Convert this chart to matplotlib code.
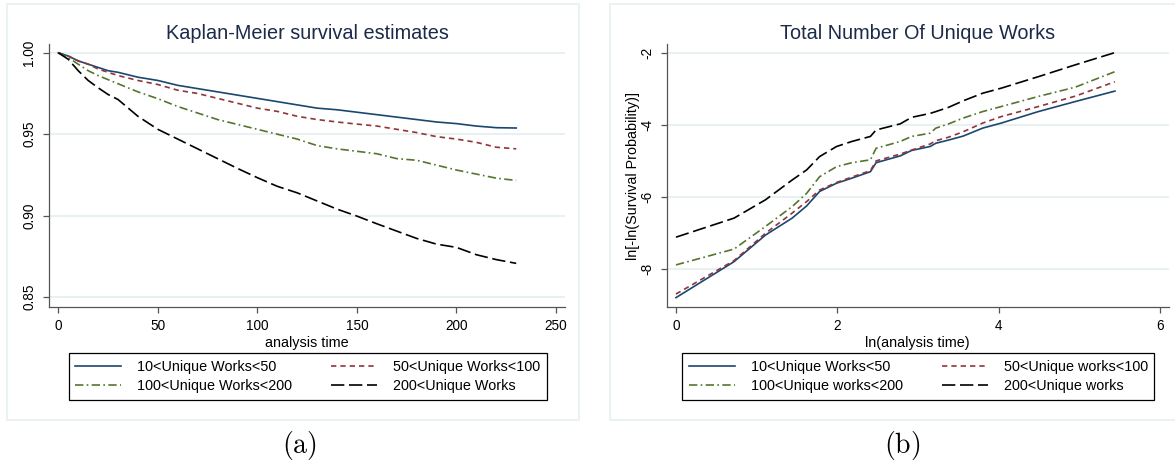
import numpy as np
import matplotlib
matplotlib.use("Agg")
import matplotlib.pyplot as plt
from matplotlib.patches import Rectangle

plt.rcParams['font.family'] = ['Liberation Sans', 'DejaVu Sans']
plt.rcParams['axes.unicode_minus'] = False

# ---- data ----
t = [0, 5, 10, 15, 20, 25, 30, 40, 50, 60, 70, 80, 90, 100, 110, 120,
     130, 140, 150, 160, 170, 180, 190, 200, 210, 220, 230]
km_10_50 = [1.000, 0.998, 0.995, 0.993, 0.991, 0.989, 0.988, 0.985, 0.983,
            0.980, 0.978, 0.976, 0.974, 0.972, 0.970, 0.968, 0.966, 0.965,
            0.9635, 0.962, 0.9605, 0.959, 0.9575, 0.9565, 0.955, 0.954, 0.9538]
km_50_100 = [1.000, 0.998, 0.995, 0.993, 0.990, 0.988, 0.986, 0.983, 0.9805,
             0.977, 0.975, 0.972, 0.969, 0.966, 0.964, 0.961, 0.959, 0.9575,
             0.9562, 0.955, 0.953, 0.951, 0.9485, 0.947, 0.945, 0.942, 0.941]
km_100_200 = [1.000, 0.997, 0.993, 0.989, 0.986, 0.9835, 0.981, 0.976, 0.9718,
              0.967, 0.963, 0.959, 0.956, 0.953, 0.950, 0.947, 0.943, 0.941,
              0.9395, 0.938, 0.935, 0.934, 0.931, 0.928, 0.9255, 0.923, 0.9216]
km_200 = [1.000, 0.996, 0.989, 0.983, 0.9785, 0.9744, 0.9713, 0.961, 0.953,
          0.947, 0.941, 0.935, 0.929, 0.9233, 0.918, 0.914, 0.909, 0.904,
          0.8997, 0.895, 0.8905, 0.886, 0.8825, 0.8805, 0.876, 0.873, 0.8707]

lnt = [0, 0.72, 1.11, 1.44, 1.62, 1.78, 1.99, 2.18, 2.41, 2.48, 2.78, 2.92,
       3.15, 3.22, 3.38, 3.56, 3.80, 4.03, 4.49, 4.95, 5.44]
ll_10_50 = [-8.79, -7.79, -7.05, -6.58, -6.24, -5.84, -5.61, -5.47, -5.29, -5.04,
            -4.85, -4.70, -4.59, -4.50, -4.41, -4.30, -4.08, -3.94, -3.62, -3.34, -3.05]
ll_50_100 = [-8.69, -7.76, -7.00, -6.44, -6.12, -5.80, -5.59, -5.44, -5.26, -4.99,
             -4.80, -4.69, -4.52, -4.43, -4.33, -4.18, -3.94, -3.76, -3.48, -3.19, -2.79]
ll_100_200 = [-7.88, -7.44, -6.81, -6.26, -5.89, -5.43, -5.15, -5.04, -4.96, -4.64,
              -4.45, -4.31, -4.22, -4.08, -3.96, -3.80, -3.62, -3.48, -3.20, -2.94, -2.51]
ll_200 = [-7.11, -6.58, -6.07, -5.52, -5.24, -4.87, -4.59, -4.45, -4.31, -4.13,
          -3.96, -3.78, -3.67, -3.62, -3.50, -3.32, -3.11, -2.97, -2.65, -2.32, -1.98]

labels_a = ['10<Unique Works<50', '50<Unique Works<100',
            '100<Unique Works<200', '200<Unique Works']
labels_b = ['10<Unique Works<50', '50<Unique works<100',
            '100<Unique works<200', '200<Unique works']

navy = '#1a476f'
maroon = '#90353b'
green = '#55752f'
grid_c = '#e8f0f2'
title_c = '#1c2a4a'

styles = [dict(color=navy, ls='-'),
          dict(color=maroon, dashes=(3.2, 2.4)),
          dict(color=green, dashes=(5, 2, 1, 2)),
          dict(color='black', dashes=(8, 2.8))]

W, H = 1175, 463
fig = plt.figure(figsize=(W / 100, H / 100), dpi=100)


def px_axes(x0, y0, x1, y1):
    return fig.add_axes([x0 / W, 1 - y1 / H, (x1 - x0) / W, (y1 - y0) / H])


# panel frames
fig.add_artist(Rectangle((7 / W, 1 - 420 / H), 572 / W, 416 / H,
                         transform=fig.transFigure, fill=False,
                         ec=grid_c, lw=1.2))
fig.add_artist(Rectangle((610 / W, 1 - 420 / H), 600 / W, 416 / H,
                         transform=fig.transFigure, fill=False,
                         ec=grid_c, lw=1.2))


def style_axes(ax):
    for s in ['top', 'right']:
        ax.spines[s].set_visible(False)
    for s in ['left', 'bottom']:
        ax.spines[s].set_color('#555555')
        ax.spines[s].set_linewidth(0.9)
    ax.tick_params(direction='out', length=4, width=0.9, color='#555555',
                   labelsize=9.8, pad=5)
    ax.yaxis.grid(True, color=grid_c, lw=1.4)
    ax.set_axisbelow(True)
    for lab in ax.get_yticklabels():
        lab.set_rotation(90)
        lab.set_va('center')


def add_legend(ax, handles, labels, x0, y0, y1):
    # row-major order like the reference
    order = [0, 2, 1, 3]
    leg = ax.legend([handles[i] for i in order], [labels[i] for i in order],
                    ncol=2, loc='center left',
                    bbox_to_anchor=(x0 / W, 1 - (y0 + y1) / 2 / H),
                    bbox_transform=fig.transFigure, fontsize=10.4,
                    handlelength=3.2, handletextpad=1.1, columnspacing=2.7,
                    labelspacing=0.35, borderpad=0.45, borderaxespad=0,
                    fancybox=False, framealpha=1, edgecolor='black')
    leg.get_frame().set_linewidth(0.9)


# ---- (a) Kaplan-Meier ----
ax1 = px_axes(49, 44.3, 565, 307)
h = []
for y, st in zip([km_10_50, km_50_100, km_100_200, km_200], styles):
    h.append(ax1.plot(t, y, lw=1.2, **st)[0])
ax1.set_xlim(-4.67, 254.5)
ax1.set_ylim(0.8439, 1.0052)
ax1.set_xticks([0, 50, 100, 150, 200, 250])
ax1.set_yticks([0.85, 0.90, 0.95, 1.00])
ax1.set_yticklabels(['0.85', '0.90', '0.95', '1.00'])
style_axes(ax1)
ax1.set_xlabel('analysis time', fontsize=10.4, labelpad=2)
ax1.set_title('Kaplan-Meier survival estimates', fontsize=14.3, color=title_c, pad=4)
add_legend(ax1, h, labels_a, 68.5, 353, 400)

# ---- (b) log-log ----
ax2 = px_axes(666.6, 44.3, 1169, 307)
h = []
for y, st in zip([ll_10_50, ll_50_100, ll_100_200, ll_200], styles):
    h.append(ax2.plot(lnt, y, lw=1.2, **st)[0])
ax2.set_xlim(-0.116, 6.11)
ax2.set_ylim(-9.05, -1.75)
ax2.set_xticks([0, 2, 4, 6])
ax2.set_yticks([-8, -6, -4, -2])
style_axes(ax2)
ax2.set_xlabel('ln(analysis time)', fontsize=10.4, labelpad=2)
ax2.set_ylabel('ln[-ln(Survival Probability)]', fontsize=10.4, labelpad=0)
ax2.set_title('Total Number Of Unique Works', fontsize=14.3, color=title_c, pad=4)
add_legend(ax2, h, labels_b, 682, 353, 400)

# captions
fig.text(299 / W, 1 - 445 / H, r'$\mathrm{(a)}$', ha='center', va='center',
         fontsize=20, math_fontfamily='cm')
fig.text(902 / W, 1 - 445 / H, r'$\mathrm{(b)}$', ha='center', va='center',
         fontsize=20, math_fontfamily='cm')

fig.savefig('out.png', dpi=100)
